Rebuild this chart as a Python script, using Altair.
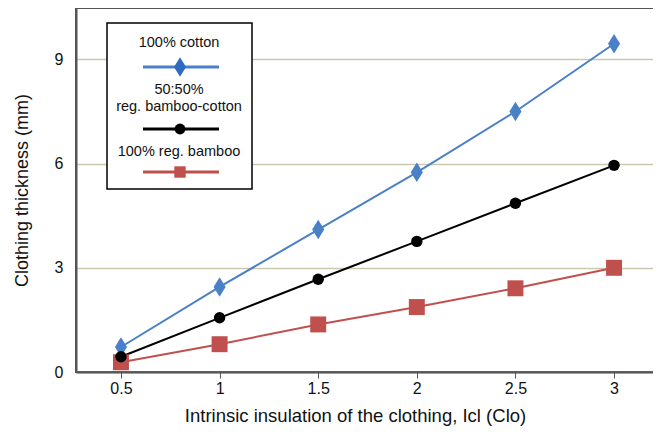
import altair as alt
import pandas as pd

clo = [0.5, 1.0, 1.5, 2.0, 2.5, 3.0]
cotton = [0.72, 2.45, 4.1, 5.75, 7.5, 9.45]
blend = [0.44, 1.56, 2.67, 3.76, 4.86, 5.95]
bamboo = [0.28, 0.80, 1.37, 1.87, 2.41, 3.0]

series_names = ["100% cotton", "100% reg. bamboo", "50:50% reg. bamboo-cotton"]
line_colors = ["#4a80c8", "#c0504d", "#000000"]
point_colors = ["#2f6cbf", "#c0504d", "#000000"]
diamond = "M0,-1L0.62,0L0,1L-0.62,0Z"
shapes = [diamond, "square", "circle"]
sizes = [380, 130, 120]

rows = []
for name, vals in zip(series_names, [cotton, bamboo, blend]):
    for x, y in zip(clo, vals):
        rows.append({"clo": x, "thick": y, "series": name})
df = pd.DataFrame(rows)

xscale = alt.Scale(domain=[0.272, 3.238], nice=False, zero=False)
yscale = alt.Scale(domain=[0, 10.48], nice=False)

base = alt.Chart(df)

lines = base.mark_line(strokeWidth=2).encode(
    x=alt.X("clo:Q", scale=xscale,
            axis=alt.Axis(values=clo, title="Intrinsic insulation of the clothing, Icl (Clo)",
                          grid=False, domainColor="#555555", domainWidth=2,
                          tickColor="#555555", tickWidth=1, tickSize=6,
                          labelFontSize=16, labelColor="#111111", labelPadding=2,
                          labelFont="Liberation Sans", titleFont="Liberation Sans",
                          titleFontSize=18.5, titleFontWeight="normal", titleColor="#111111",
                          titlePadding=10, titleX=279, titleAlign="center",
                          labelExpr="datum.value == 1 || datum.value == 2 || datum.value == 3 ? format(datum.value, 'd') : format(datum.value, '.1f')")),
    y=alt.Y("thick:Q", scale=yscale,
            axis=alt.Axis(values=[0, 3, 6, 9], title="Clothing thickness (mm)",
                          grid=True, gridColor="#ccc8ad", gridWidth=1.5,
                          domainColor="#555555", domainWidth=2, ticks=False,
                          labelFontSize=16, labelColor="#111111", labelPadding=13,
                          labelFont="Liberation Sans", titleFont="Liberation Sans",
                          titleFontSize=18, titleFontWeight="normal", titleColor="#111111",
                          titlePadding=23)),
    color=alt.Color("series:N", scale=alt.Scale(domain=series_names, range=line_colors), legend=None),
    detail="series:N",
)

points = base.mark_point(filled=True, opacity=1).encode(
    x=alt.X("clo:Q", scale=xscale),
    y=alt.Y("thick:Q", scale=yscale),
    color=alt.Color("series:N", scale=alt.Scale(domain=series_names, range=point_colors), legend=None),
    shape=alt.Shape("series:N", scale=alt.Scale(domain=series_names, range=shapes), legend=None),
    size=alt.Size("series:N", scale=alt.Scale(domain=series_names, range=sizes), legend=None),
)

one = pd.DataFrame({"k": [0]})
lb = alt.Chart(one)

box = lb.mark_rect(fill="white", stroke="black", strokeWidth=1.5).encode(
    x=alt.value(31), x2=alt.value(176), y=alt.value(15), y2=alt.value(181))

legend_layers = [box]
text_items = [("100% cotton", 35), ("50:50%", 82), ("reg. bamboo-cotton", 99), ("100% reg. bamboo", 144)]
for t, yy in text_items:
    legend_layers.append(lb.mark_text(text=t, fontSize=14.5, font="Liberation Sans", color="#111111",
                                      align="center", baseline="middle").encode(
        x=alt.value(103), y=alt.value(yy)))

sym = [(59, line_colors[0], point_colors[0], diamond, 380),
       (121, line_colors[2], point_colors[2], "circle", 120),
       (164, line_colors[1], point_colors[1], "square", 130)]
for yy, lc, pc, shp, sz in sym:
    legend_layers.append(lb.mark_rule(color=lc, strokeWidth=3).encode(
        x=alt.value(67), x2=alt.value(143), y=alt.value(yy)))
    legend_layers.append(lb.mark_point(filled=True, opacity=1, color=pc, shape=shp, size=sz).encode(
        x=alt.value(104), y=alt.value(yy)))

chart = alt.layer(lines, points, *legend_layers).properties(
    width=585, height=364,
    autosize=alt.AutoSizeParams(type="none"),
    padding={"left": 68, "top": 0, "right": -8, "bottom": 54},
).configure_view(stroke="#555555", strokeWidth=2)

chart.save("out.html", embed_options={"renderer": "svg", "actions": False})
